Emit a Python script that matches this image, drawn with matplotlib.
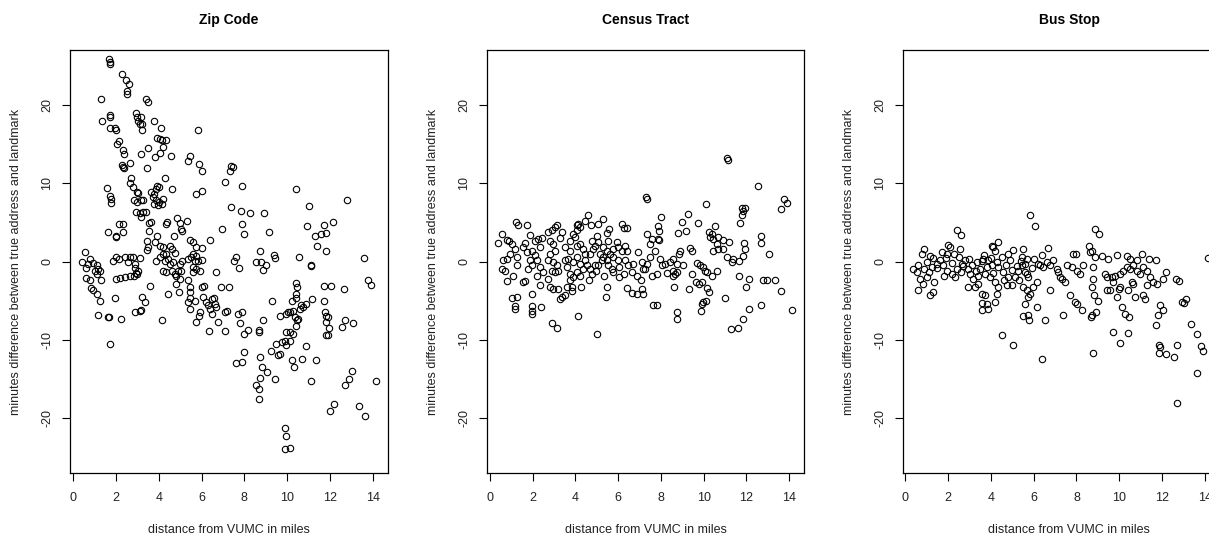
import matplotlib
matplotlib.use('Agg')
import matplotlib.pyplot as plt

plt.rcParams['font.family'] = ['Liberation Sans', 'DejaVu Sans']
plt.rcParams['axes.unicode_minus'] = False

# (distance in miles, minutes difference)
zip_pts = [
    (1.67, 25.9), (1.71, 25.5), (1.71, 25.2), (2.26, 23.9), (2.49, 23.2), (2.60, 22.7), (2.52, 21.8), (2.52, 21.4),
    (1.32, 20.8), (3.40, 20.7), (3.50, 20.3), (1.35, 18.0), (1.71, 18.5), (1.74, 18.7), (1.71, 17.1), (1.95, 17.1),
    (1.98, 16.8), (2.93, 19.0), (2.99, 18.5), (3.05, 18.0), (3.19, 18.4), (3.22, 17.6), (3.12, 17.5), (3.22, 16.8),
    (3.79, 18.0), (4.10, 17.1), (5.84, 16.8), (2.06, 15.0), (2.15, 15.4), (2.34, 14.2), (2.37, 13.7), (2.29, 12.3),
    (2.34, 12.1), (2.37, 11.9), (2.65, 12.6), (3.16, 13.7), (3.50, 14.5), (3.46, 11.9), (3.94, 15.8), (4.05, 15.7),
    (4.13, 15.5), (4.36, 15.5), (4.21, 14.6), (4.05, 13.9), (3.82, 13.4), (4.55, 13.5), (5.37, 12.8), (5.48, 13.5),
    (5.89, 12.4), (6.04, 11.6), (7.32, 11.6), (7.40, 12.2), (7.48, 12.1), (7.12, 10.1), (7.91, 9.6), (10.44, 9.3),
    (12.80, 7.8), (11.01, 7.1), (1.60, 9.4), (1.71, 8.4), (1.76, 8.0), (1.76, 7.5), (2.69, 10.6), (2.65, 10.0),
    (2.80, 9.5), (2.96, 8.9), (3.01, 8.7), (2.83, 7.8), (2.99, 7.6), (3.16, 7.8), (3.27, 7.8), (2.93, 6.3),
    (3.12, 6.2), (3.27, 6.3), (3.40, 6.3), (3.16, 5.7), (3.66, 8.9), (3.79, 8.6), (3.92, 9.7), (3.89, 9.2),
    (4.02, 9.5), (3.74, 8.2), (3.86, 7.8), (3.97, 7.2), (4.13, 7.3), (4.21, 8.0), (4.02, 7.6), (3.79, 7.4),
    (4.30, 10.6), (4.64, 9.3), (5.72, 8.6), (6.00, 9.0), (7.37, 7.0), (7.86, 6.5), (8.26, 6.2), (8.91, 6.2),
    (7.91, 4.8), (7.97, 3.5), (6.98, 4.1), (9.16, 3.8), (10.93, 4.5), (11.32, 3.2), (11.60, 3.5), (11.84, 3.7),
    (11.71, 4.7), (12.15, 5.0), (11.40, 2.0), (11.84, 1.3), (10.55, 0.55), (11.14, -0.4), (11.11, -0.6), (13.6, 0.5),
    (13.79, -2.3), (13.94, -3.0), (1.65, 3.75), (1.98, 3.3), (2.02, 3.1), (2.15, 4.8), (2.34, 4.8), (2.34, 3.75),
    (3.55, 4.9), (3.66, 5.0), (3.55, 3.9), (3.94, 3.2), (4.33, 4.8), (4.39, 5.0), (4.72, 3.2), (4.86, 5.5),
    (4.98, 4.9), (5.06, 4.2), (5.09, 3.9), (5.33, 5.2), (3.47, 2.6), (3.50, 1.8), (3.47, 1.5), (3.82, 2.5),
    (4.05, 2.0), (4.21, 1.8), (4.36, 1.0), (4.52, 2.0), (4.60, 1.6), (4.75, 1.1), (5.45, 2.7), (5.61, 2.5),
    (5.76, 1.8), (6.04, 1.7), (6.39, 2.7), (8.75, 1.3), (9.39, 0.85), (9.42, 0.5), (8.80, 0.0), (8.57, 0.0),
    (9.03, -0.4), (8.88, -1.1), (7.51, 0.1), (7.63, 0.55), (7.76, -0.85), (6.70, -1.4), (0.55, 1.2), (0.39, 0.0),
    (0.78, 0.35), (0.62, -0.85), (0.70, -0.3), (0.93, -0.2), (1.09, -0.5), (1.01, -1.15), (1.17, -0.9), (1.25, -1.15),
    (1.12, -1.6), (0.62, -2.1), (0.78, -2.4), (1.29, -2.4), (1.87, 0.1), (2.0, 0.55), (2.12, 0.35), (2.41, 0.55),
    (2.65, 0.55), (2.80, 0.55), (3.12, 0.5), (2.57, -0.1), (2.88, -0.3), (2.91, -0.85), (3.04, -1.15), (2.96, -1.6),
    (2.0, -2.2), (2.18, -2.1), (2.41, -2.0), (2.65, -1.8), (2.83, -1.8), (2.93, -1.5), (3.58, -3.1), (3.89, 0.1),
    (4.05, 0.55), (4.21, 1.0), (4.28, 0.1), (4.44, 0.35), (4.52, -0.3), (4.67, -0.1), (4.21, -1.15), (4.36, -1.3),
    (4.60, -1.15), (4.75, -1.6), (4.91, -1.15), (4.98, -0.3), (5.11, 0.1), (5.06, -1.15), (4.83, -1.9), (4.98, -2.2),
    (5.37, 0.35), (5.53, 0.55), (5.61, 1.0), (5.69, 0.1), (5.76, 0.65), (5.84, 0.1), (6.0, 0.25), (5.61, -0.7),
    (5.76, -0.95), (5.92, -1.15), (5.61, -1.4), (5.37, -2.4), (4.80, -2.9), (5.45, -3.3), (6.0, -3.3), (6.12, -3.1),
    (6.90, -3.2), (7.28, -3.2), (10.44, -2.8), (10.48, -3.3), (11.73, -3.1), (12.04, -3.1), (12.66, -3.5), (0.84, -3.4),
    (0.93, -3.7), (1.09, -4.1), (1.25, -5.0), (1.17, -6.8), (1.64, -7.1), (1.68, -7.1), (2.23, -7.3), (1.71, -10.5),
    (1.95, -4.7), (3.24, -4.5), (3.35, -5.2), (2.88, -6.5), (3.12, -6.3), (3.19, -6.2), (4.17, -7.5), (4.41, -4.2),
    (4.95, -3.9), (5.45, -3.9), (5.48, -4.6), (5.37, -5.2), (5.45, -6.0), (5.69, -5.0), (6.08, -4.5), (5.76, -7.7),
    (6.23, -5.2), (6.31, -5.6), (6.39, -6.0), (6.51, -4.8), (6.59, -4.6), (6.62, -5.4), (6.70, -5.8), (6.47, -6.7),
    (6.78, -7.7), (7.09, -6.5), (7.17, -6.3), (6.36, -8.9), (7.09, -8.9), (5.92, -6.5), (5.89, -6.9), (7.71, -6.7),
    (7.87, -6.5), (7.82, -7.9), (7.99, -9.2), (8.18, -8.8), (7.99, -11.6), (7.87, -12.8), (7.63, -13.0), (8.68, -8.7),
    (8.69, -9.0), (8.88, -7.5), (8.75, -12.2), (8.83, -13.5), (9.07, -14.1), (8.72, -14.9), (8.57, -15.8), (8.69, -16.3),
    (8.68, -17.6), (9.42, -15.0), (9.31, -5.1), (9.27, -11.4), (9.50, -10.5), (9.58, -11.9), (9.69, -11.8), (9.74, -10.3),
    (9.89, -10.1), (9.97, -10.7), (10.12, -10.1), (9.97, -9.0), (10.12, -9.0), (10.28, -9.2), (9.66, -6.9), (9.97, -6.7),
    (10.05, -6.5), (10.12, -6.5), (10.28, -6.3), (10.36, -7.1), (10.51, -7.3), (10.44, -8.2), (10.48, -7.5), (10.59, -6.0),
    (10.67, -5.6), (10.75, -5.8), (10.87, -5.4), (11.18, -4.8), (10.25, -5.0), (10.40, -4.6), (10.44, -4.1), (10.25, -12.6),
    (10.33, -13.5), (10.70, -12.5), (10.90, -10.8), (11.37, -12.6), (11.14, -15.3), (9.89, -21.3), (9.94, -22.3), (9.89, -23.9),
    (10.12, -23.8), (11.71, -5.0), (11.79, -6.5), (11.84, -6.9), (11.92, -7.1), (11.84, -7.7), (11.96, -8.5), (11.84, -9.4),
    (11.92, -9.4), (12.57, -8.3), (12.70, -7.5), (13.08, -7.9), (11.99, -19.1), (12.20, -18.2), (12.70, -15.8), (12.88, -15.0),
    (13.05, -14.0), (13.35, -18.5), (13.63, -19.7), (14.17, -15.3),
]

tract_pts = [
    (11.1, 13.2), (11.15, 13.0), (7.29, 8.2), (7.33, 8.0), (12.56, 9.6), (13.76, 8.0), (13.92, 7.45), (13.62, 6.7),
    (10.11, 7.4), (11.78, 6.85), (11.93, 6.85), (11.86, 6.5), (11.70, 4.9), (11.78, 6.0), (9.25, 6.1), (9.0, 5.0),
    (9.16, 3.95), (8.81, 3.6), (7.99, 5.7), (7.85, 4.5), (7.91, 3.9), (7.33, 3.45), (7.57, 2.9), (7.49, 2.25),
    (7.72, 1.4), (7.88, 2.9), (7.93, 2.8), (9.73, 4.9), (10.53, 4.5), (10.37, 3.55), (10.26, 3.8), (10.30, 3.1),
    (10.45, 2.9), (10.69, 3.1), (10.92, 2.7), (11.19, 2.5), (10.61, 2.25), (10.42, 1.4), (10.69, 1.6), (10.92, 1.6),
    (11.11, 0.55), (11.36, 0.35), (11.31, -0.1), (11.67, 0.1), (11.86, 0.75), (11.93, 1.6), (11.89, 2.4), (12.67, 3.2),
    (12.67, 2.4), (13.07, 0.9), (11.67, -1.9), (12.14, -2.2), (11.98, -3.2), (12.76, -2.4), (12.95, -2.3), (13.34, -2.4),
    (13.60, -3.8), (12.14, -6.0), (12.67, -5.5), (14.16, -6.2), (11.0, -4.6), (11.26, -8.6), (11.62, -8.5), (11.86, -7.4),
    (9.36, 1.75), (9.44, 1.4), (8.89, 1.4), (8.86, 0.98), (8.58, 0.34), (8.42, -0.08), (8.19, -0.3), (8.74, -0.3),
    (9.02, -0.43), (8.58, -1.15), (8.67, -1.57), (8.58, -1.9), (7.96, 0.34), (8.03, -0.51), (7.80, -1.57), (7.57, -1.79),
    (8.27, -1.49), (8.74, -1.36), (9.67, -0.2), (9.83, -0.5), (9.98, -0.72), (10.06, -1.15), (10.17, -1.36), (10.37, -1.9),
    (10.61, -1.15), (9.48, -1.57), (9.64, -2.64), (9.80, -2.85), (9.91, -2.64), (10.14, -3.4), (10.27, -3.9), (9.98, -5.2),
    (9.91, -5.4), (9.88, -6.3), (10.11, -5.1), (9.31, -3.5), (8.63, -3.3), (8.77, -6.4), (8.74, -7.4), (7.64, -5.5),
    (7.80, -5.5), (6.40, -3.4), (6.66, -4.0), (6.86, -4.2), (7.10, -3.5), (7.18, -4.1), (7.05, -2.3), (6.86, -1.8),
    (6.63, -1.36), (6.71, -0.3), (6.47, -0.51), (6.32, 0.13), (6.40, 1.4), (6.94, 1.19), (7.10, -0.08), (7.26, -0.94),
    (6.05, -2.0), (6.29, -1.57), (6.05, -0.72), (5.97, 0.13), (5.43, -4.55), (5.46, -3.28), (5.35, -1.9), (4.99, -9.3),
    (4.96, -1.15), (4.63, -2.4), (4.52, -0.5), (4.26, -3.3), (4.13, -7.0), (3.82, -3.3), (3.74, -2.4), (3.82, -3.8),
    (4.60, 5.96), (4.45, 5.23), (4.71, 4.6), (5.04, 4.8), (5.30, 5.45), (4.99, 3.3), (5.46, 3.7), (5.58, 4.1),
    (6.16, 4.77), (6.27, 4.26), (6.43, 4.26), (5.07, 2.47), (5.54, 2.68), (5.93, 2.47), (6.01, 1.83), (6.16, 1.40),
    (6.32, 2.04), (5.77, 1.62), (5.30, 1.83), (5.46, 1.40), (5.62, 0.98), (5.77, 0.55), (5.30, 0.55), (5.46, 0.13),
    (5.54, -0.51), (5.69, -0.94), (5.77, -1.36), (0.39, 2.34), (0.55, 3.45), (0.78, 2.77), (0.90, 2.68), (1.22, 5.02),
    (1.33, 4.72), (1.72, 4.60), (1.01, 2.26), (1.17, 1.62), (1.25, 0.55), (0.94, 0.98), (0.78, 0.34), (0.62, 0.21),
    (0.55, -0.94), (0.70, -1.15), (0.78, -2.51), (1.09, -1.79), (1.25, -0.51), (1.01, -4.60), (1.17, -5.66), (1.17, -6.09),
    (1.28, -4.51), (1.56, -2.64), (1.64, -2.43), (1.95, -5.66), (1.95, -6.30), (1.95, -6.64), (2.39, -5.87), (1.87, 3.32),
    (1.64, 2.34), (1.56, 1.83), (1.72, 1.19), (1.95, 1.40), (2.11, 2.68), (2.26, 2.89), (2.42, 3.02), (2.34, 1.83),
    (2.11, 0.77), (1.87, 0.13), (1.95, -0.51), (1.79, -0.94), (2.18, 0.13), (2.34, -0.72), (2.50, -1.36), (2.18, -1.79),
    (2.34, -3.06), (1.95, -4.17), (2.89, -7.79), (3.12, -8.51), (2.73, 3.74), (2.89, 3.96), (3.04, 4.38), (3.12, 4.60),
    (3.35, 3.74), (3.28, 3.06), (2.81, 2.68), (2.96, 2.26), (3.04, 1.40), (2.81, 0.98), (2.73, 0.13), (2.96, -0.09),
    (3.12, -0.51), (2.89, -1.15), (3.04, -1.36), (3.20, -1.15), (2.73, -2.21), (2.81, -3.28), (2.96, -3.49), (3.20, -3.49),
    (3.35, -4.55), (3.28, -4.77), (3.51, -4.34), (3.59, -3.28), (3.74, -1.57), (3.59, -0.72), (3.51, 0.13), (3.67, 0.34),
    (3.74, 1.40), (3.51, 1.83), (3.74, 2.68), (3.90, 3.53), (4.06, 4.60), (4.13, 4.81), (4.21, 4.38), (4.09, 3.96),
    (3.98, 3.11), (4.06, 2.04), (4.21, 2.26), (4.37, 1.62), (4.45, 0.98), (4.06, 0.55), (3.90, -0.09), (4.21, -0.30),
    (4.37, -0.94), (4.06, -1.36), (3.90, -2.00), (4.21, -1.79), (4.45, 0.13), (4.68, 0.98), (4.84, 1.62), (4.91, 2.04),
    (4.76, 2.68), (4.68, -0.94), (4.76, -1.57), (4.91, -0.51), (5.15, 0.98), (5.23, 0.13), (5.07, -0.51), (7.49, 0.55),
    (7.33, -0.30), (7.18, -0.94),
]

bus_pts = [
    (0.39, -0.94), (0.54, -1.36), (0.70, -2.21), (0.82, -2.85), (0.62, -3.70), (1.14, -4.34), (1.32, -3.91), (1.35, -2.64),
    (1.01, -2.00), (1.24, -0.72), (1.48, -0.30), (1.63, 0.13), (1.79, -0.51), (1.94, -1.15), (2.18, -1.57), (2.33, -2.00),
    (2.41, -0.94), (2.64, -0.30), (2.80, 0.13), (2.95, -0.94), (3.03, -1.57), (3.19, -2.21), (2.95, -3.28), (3.27, -3.28),
    (3.42, -2.85), (3.58, -4.13), (3.73, -4.34), (3.58, -5.28), (3.58, -6.17), (3.81, -5.40), (3.89, -6.04), (4.20, -5.19),
    (4.28, -4.13), (4.35, -3.28), (4.20, -2.64), (3.97, -2.00), (3.73, -1.57), (3.50, -0.94), (3.34, -0.09), (3.65, 0.34),
    (3.89, 0.13), (4.04, -0.51), (4.35, -0.72), (4.59, -1.36), (4.82, -2.00), (4.74, -3.06), (4.98, -3.06), (5.13, -2.00),
    (5.29, -1.15), (5.44, -0.51), (5.60, -1.36), (5.75, -2.00), (5.52, -3.28), (5.68, -3.70), (5.83, -4.13), (5.99, -3.28),
    (6.14, -2.64), (5.75, -4.55), (5.60, -5.40), (5.49, -6.98), (5.75, -6.89), (5.80, -7.53), (6.14, -5.83), (6.53, -7.45),
    (6.38, -12.51), (4.51, -9.32), (5.02, -10.68), (6.22, -0.30), (6.45, -0.72), (6.61, -0.09), (6.77, -0.51), (6.92, 0.13),
    (7.08, -0.94), (7.15, -1.36), (7.23, -2.00), (7.47, -2.64), (7.31, -2.21), (6.77, -3.70), (7.36, -6.89), (7.70, -4.34),
    (7.93, -5.19), (8.01, -5.40), (8.27, -6.13), (8.16, -1.57), (8.01, -1.15), (7.78, -0.72), (7.54, -0.51), (8.32, -0.51),
    (8.79, -0.72), (8.76, -2.21), (8.74, -3.28), (8.83, -4.34), (9.02, -5.06), (8.90, -6.47), (8.71, -6.89), (8.66, -7.11),
    (8.79, -11.66), (9.33, -1.57), (9.41, -2.00), (9.64, -2.00), (9.72, -2.64), (9.80, -1.79), (10.03, -1.57), (10.19, -1.15),
    (10.34, -0.72), (10.50, -0.94), (10.65, -0.51), (10.81, -1.15), (10.96, -1.57), (11.12, -0.72), (11.28, -1.15), (11.43, -2.00),
    (11.59, -2.64), (11.74, -2.85), (12.05, -2.21), (12.18, -1.28), (12.64, -2.21), (12.80, -2.43), (11.28, -2.94), (9.41, -3.70),
    (9.56, -3.70), (9.91, -4.55), (10.00, -3.49), (10.03, -3.28), (10.42, -3.70), (10.58, -2.64), (10.65, -2.85), (10.73, -4.55),
    (11.12, -4.34), (11.20, -4.77), (10.11, -5.83), (10.26, -6.68), (10.47, -7.11), (9.72, -9.02), (10.03, -10.43), (10.42, -9.11),
    (11.71, -8.09), (11.82, -6.77), (11.90, -5.49), (12.05, -6.17), (11.87, -10.72), (11.90, -10.94), (11.87, -11.70), (12.18, -11.87),
    (12.55, -12.21), (12.71, -10.72), (12.91, -5.19), (13.02, -5.32), (13.11, -4.77), (13.33, -8.04), (13.64, -9.23), (13.79, -10.85),
    (13.89, -11.45), (13.61, -14.21), (12.69, -18.1), (5.83, 6.0), (6.07, 4.47), (2.41, 3.96), (2.61, 3.32), (8.86, 4.17),
    (9.05, 3.53), (14.15, 0.43), (2.02, 2.17), (2.10, 1.83), (2.57, 1.62), (0.86, 1.62), (0.78, 0.98), (1.17, 0.64),
    (1.71, 1.19), (1.94, 0.98), (4.04, 2.04), (4.12, 1.83), (4.35, 2.55), (4.20, 1.40), (5.05, 1.53), (5.49, 1.62),
    (6.41, 0.77), (6.69, 1.74), (5.44, 0.55), (5.68, 0.34), (8.60, 2.04), (8.71, 1.40), (8.63, 1.19), (7.85, 0.98),
    (7.96, 0.98), (9.18, 0.64), (9.49, 0.34), (9.91, 0.89), (10.34, 0.64), (10.50, 0.34), (11.04, 0.98), (11.40, 0.34),
    (11.71, 0.13), (8.86, 0.55), (10.81, 0.13), (1.0, 0.0), (1.3, 0.4), (1.5, -0.8), (1.9, 0.5), (2.2, -0.2),
    (2.5, 0.6), (2.7, -0.6), (3.0, 0.3), (3.1, -0.4), (3.3, -1.2), (3.6, 0.1), (3.8, -0.7), (4.0, 0.5),
    (4.3, -0.1), (4.5, 0.6), (4.7, -0.5), (4.9, 0.2), (5.2, -0.6), (5.4, 0.1), (5.6, -0.3), (5.9, -0.8),
    (6.0, 0.3), (6.3, -0.4), (1.1, -1.4), (1.8, -1.8), (2.6, -1.3), (3.4, -1.9), (4.1, -1.5), (4.6, -2.3),
    (5.0, -1.1), (5.3, -2.4), (5.7, -1.6), (2.3, 0.9), (3.7, 0.8), (4.8, 0.9), (0.6, -0.5), (0.9, -1.0),
]

titles = ['Zip Code', 'Census Tract', 'Bus Stop']
xlabel = 'distance from VUMC in miles'
ylabel = 'minutes difference between true address and landmark'
xticks = [0, 2, 4, 6, 8, 10, 12, 14]
yticks = [-20, -10, 0, 10, 20]

W, H = 1209, 536
fig = plt.figure(figsize=(W / 100, H / 100), dpi=100)

# axes boxes in pixels: left, width; the third one runs past the right edge
boxes = [(70, 318), (487, 317), (903, 332)]
xlims = [(-0.15, 14.72), (-0.14, 14.70), (-0.10, 15.40)]
top, bottom = 50, 473

for pts, title, (left, width), xl in zip([zip_pts, tract_pts, bus_pts], titles, boxes, xlims):
    ax = fig.add_axes([left / W, (H - bottom) / H, width / W, (bottom - top) / H])
    xs = [p[0] for p in pts]
    ys = [p[1] for p in pts]
    ax.plot(xs, ys, linestyle='none', marker='o', markersize=4.6,
            markerfacecolor='none', markeredgecolor='black', markeredgewidth=0.8)
    ax.set_xlim(*xl)
    ax.set_ylim(-27, 27)
    ax.set_xticks(xticks)
    ax.set_yticks(yticks)
    ax.tick_params(direction='out', length=6, width=0.8, color='black',
                   labelsize=9, labelcolor='#222222')
    ax.tick_params(axis='x', pad=8)
    ax.tick_params(axis='y', pad=6, labelrotation=90)
    for lab in ax.get_yticklabels():
        lab.set_verticalalignment('center')
    for s in ax.spines.values():
        s.set_linewidth(0.9)
        s.set_color('black')
    ax.set_title(title, fontsize=10, fontweight='bold', pad=19)
    ax.set_xlabel(xlabel, fontsize=9, color='#222222', labelpad=14)
    ax.set_ylabel(ylabel, fontsize=9, color='#222222', labelpad=14)

plt.savefig('out.png', dpi=100)
